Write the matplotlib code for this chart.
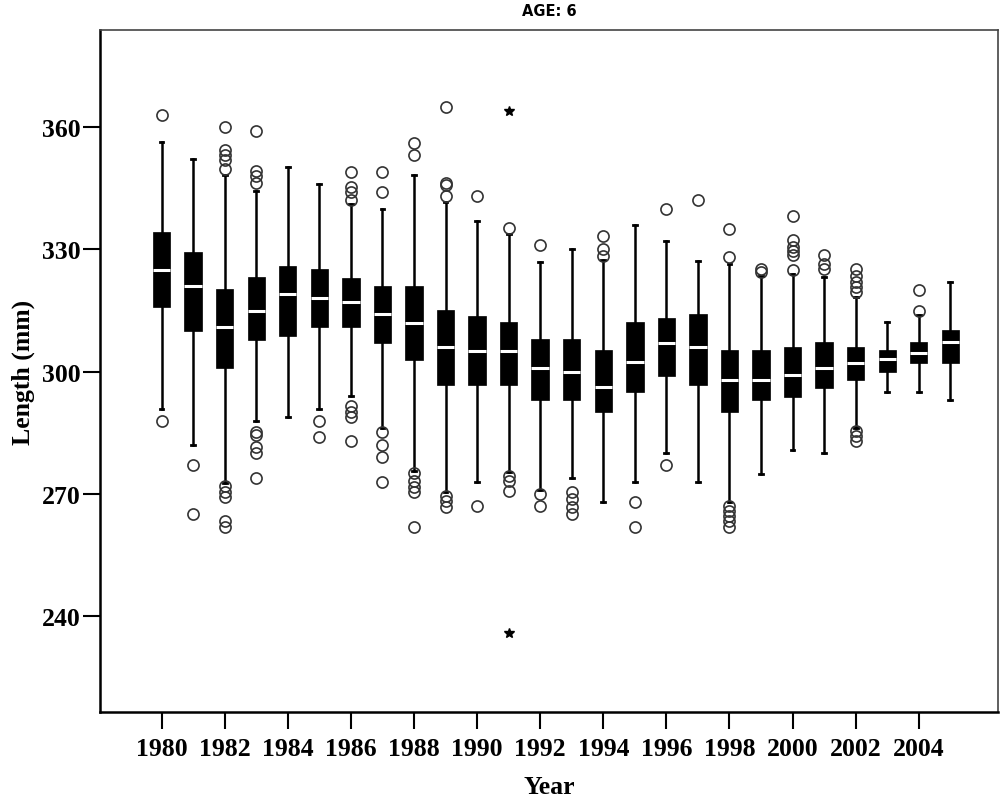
import matplotlib
matplotlib.use("Agg")
import matplotlib.pyplot as plt

years = list(range(1980, 2006))
whislo = [290.8, 282.1, 272.8, 288.0, 289.0, 290.8, 294.1, 286.3, 275.7, 270.4,
          273.0, 275.3, 271.0, 273.9, 268.1, 273.0, 280.0, 273.0, 268.1, 275.0,
          280.9, 280.0, 286.3, 294.9, 294.9, 293.0]
q1 = [315.8, 309.9, 300.8, 307.8, 308.8, 310.9, 310.9, 307.0, 302.9, 296.8,
      296.8, 296.8, 293.0, 293.0, 290.0, 294.9, 298.9, 296.8, 290.0, 293.0,
      293.9, 296.0, 298.0, 300.0, 302.1, 302.1]
median = [324.9, 321.1, 311.0, 315.0, 319.1, 318.0, 317.0, 314.2, 312.0, 306.0,
          305.0, 305.0, 301.0, 300.0, 296.2, 302.5, 307.0, 306.0, 298.0, 298.0,
          299.2, 301.0, 302.1, 303.0, 304.6, 307.2]
q3 = [334.2, 329.3, 320.3, 323.2, 326.0, 325.2, 322.9, 321.1, 321.1, 315.2,
      313.6, 312.1, 308.0, 308.0, 305.2, 312.1, 313.1, 314.2, 305.2, 305.2,
      306.0, 307.2, 306.0, 305.2, 307.2, 310.2]
whishi = [356.3, 352.1, 348.2, 344.4, 350.1, 346.0, 341.1, 340.0, 348.2, 341.7,
          337.0, 333.8, 327.0, 330.1, 327.5, 336.0, 332.1, 327.1, 326.4, 323.5,
          324.0, 323.2, 318.3, 312.1, 313.9, 322.1]
outliers = [
    [363.0, 288.0],
    [277.1, 265.0],
    [360.1, 354.4, 353.2, 352.0, 349.7, 272.0, 270.4, 269.2, 263.5, 261.8],
    [359.1, 349.3, 347.9, 346.3, 285.1, 284.5, 281.5, 280.0, 273.9],
    [],
    [288.0, 284.0],
    [348.9, 345.2, 344.0, 342.2, 291.7, 290.0, 288.8, 282.9],
    [348.9, 344.0, 285.1, 282.0, 279.0, 273.0],
    [356.1, 353.2, 275.1, 273.3, 271.6, 270.4, 262.0],
    [365.0, 346.4, 345.8, 343.2, 269.6, 268.4, 266.7],
    [343.2, 267.0],
    [335.2, 274.5, 273.3, 270.8],
    [331.1, 270.0, 267.0],
    [270.4, 268.8, 266.7, 265.1],
    [333.2, 330.1, 328.3],
    [268.1, 262.0],
    [340.0, 277.1],
    [342.1],
    [335.0, 328.1, 267.1, 265.9, 264.7, 263.5, 261.8],
    [325.2, 324.4],
    [338.1, 332.3, 330.5, 329.7, 328.6, 325.0],
    [328.5, 326.4, 325.2],
    [325.2, 323.5, 321.9, 320.7, 319.5, 285.5, 284.3, 283.1],
    [],
    [320.0, 315.0],
    [],
]
extreme_years = [1991, 1991]
extreme_values = [364.0, 236.0]
xtick_years = list(range(1980, 2005, 2))
ytick_values = [240, 270, 300, 330, 360]

fig = plt.figure(figsize=(10.01, 8.03), dpi=100)
ax = fig.add_axes([100 / 1001, 90 / 803, 898 / 1001, 682 / 803])

stats = []
for i, yr in enumerate(years):
    stats.append(dict(med=median[i], q1=q1[i], q3=q3[i], whislo=whislo[i],
                      whishi=whishi[i], fliers=outliers[i], label=str(yr)))

ax.bxp(stats, positions=years, widths=0.55, patch_artist=True, showfliers=True,
       boxprops=dict(facecolor="black", edgecolor="black", linewidth=0.5),
       medianprops=dict(color="white", linewidth=2.2, solid_capstyle="butt"),
       whiskerprops=dict(color="black", linewidth=1.8),
       capprops=dict(color="black", linewidth=2.0),
       capwidths=0.12,
       flierprops=dict(marker="o", markerfacecolor="none", markeredgecolor="#333333",
                       markersize=8, markeredgewidth=1.2, linestyle="none"))

ax.plot(extreme_years, extreme_values, linestyle="none", marker="*",
        color="black", markersize=7.5)

ax.set_xlim(1978.05, 2006.51)
ax.set_ylim(216.53, 383.81)

ax.set_xticks(xtick_years)
ax.set_xticklabels([str(y) for y in xtick_years])
ax.set_yticks(ytick_values)
ax.set_yticklabels([str(v) for v in ytick_values])

serif = ["Liberation Serif", "DejaVu Serif"]
for lab in ax.get_xticklabels() + ax.get_yticklabels():
    lab.set_fontfamily(serif)
    lab.set_fontweight("bold")
    lab.set_fontsize(18.5)

ax.tick_params(axis="x", length=12, width=1.5, pad=6, direction="out")
ax.tick_params(axis="y", length=12, width=1.5, pad=2, direction="out")

ax.set_xlabel("Year", fontfamily=serif, fontweight="bold", fontsize=18.5, labelpad=11)
ax.set_ylabel("Length (mm)", fontfamily=serif, fontweight="bold", fontsize=18.5, labelpad=5)
ax.set_title("AGE: 6", fontfamily="DejaVu Sans", fontweight="bold", fontsize=10.5, pad=11)

for side in ["left", "bottom"]:
    ax.spines[side].set_linewidth(1.8)
    ax.spines[side].set_color("black")
for side in ["top", "right"]:
    ax.spines[side].set_linewidth(1.2)
    ax.spines[side].set_color("#444444")

fig.savefig("out.png", dpi=100)
